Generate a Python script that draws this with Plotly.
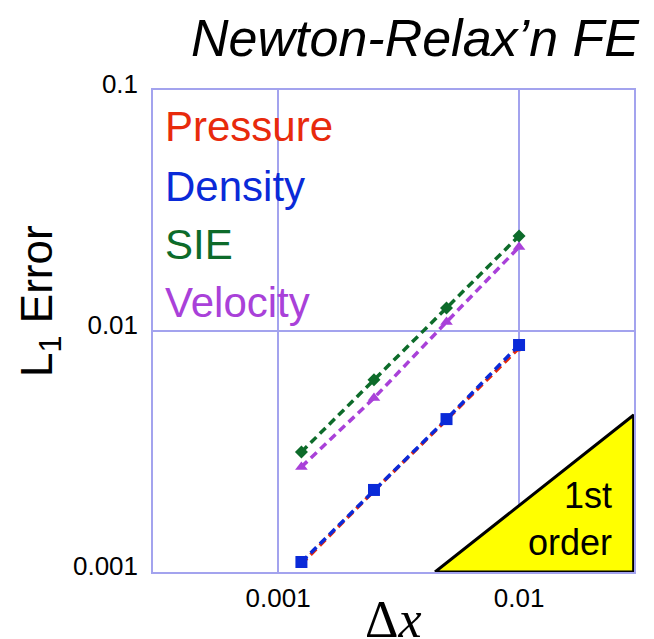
import plotly.graph_objects as go

dx = [0.00125, 0.0025, 0.005, 0.01]
pressure = [0.00108, 0.00217, 0.00428, 0.0085]
density = [0.0011, 0.00219, 0.00431, 0.00875]
sie = [0.00315, 0.00627, 0.01245, 0.0248]
velocity = [0.00273, 0.00527, 0.0109, 0.0223]

tri_x = [0.00448, 0.0299, 0.0299, 0.00448]
tri_y = [0.001, 0.001, 0.00448, 0.001]

names = ["Pressure", "Density", "SIE", "Velocity"]
colors = ["#e82a0c", "#0a2ad8", "#0d6b2a", "#a941d9"]

grid = "#a3a3ee"
fig = go.Figure()

fig.add_trace(go.Scatter(x=tri_x, y=tri_y, mode="lines", fill="toself",
                         fillcolor="#ffff00", line=dict(color="black", width=3),
                         hoverinfo="skip", showlegend=False))

series = [(pressure, "circle", 7), (density, "square", 12), (sie, "diamond", 10), (velocity, "triangle-up", 11)]
for i in range(4):
    vals, sym, sz = series[i]
    fig.add_trace(go.Scatter(x=dx, y=vals, mode="lines+markers", name=names[i],
                             line=dict(color=colors[i], width=3.5, dash="8px,5px"),
                             marker=dict(symbol=sym, size=sz, color=colors[i]),
                             showlegend=False))

plot_l, plot_r, plot_t, plot_b = 153, 634, 90, 572
def px2paper(px, py):
    return (px - plot_l) / (plot_r - plot_l), (plot_b - py) / (plot_b - plot_t)

anns = []
ys = [127, 187, 245, 302]
for n, c, yp in zip(names, colors, ys):
    xa, ya = px2paper(163, yp)
    anns.append(dict(text=n, x=xa, y=ya, xref="paper", yref="paper",
                     xanchor="left", yanchor="middle", showarrow=False,
                     font=dict(size=42, color=c, family="Liberation Sans")))

xa, ya = px2paper(614, 519)
anns.append(dict(text="1st<br>order", x=xa, y=ya, xref="paper", yref="paper",
                 xanchor="right", yanchor="middle", align="right", showarrow=False,
                 font=dict(size=36, color="black", family="Liberation Sans")))
xa, ya = px2paper(415, 38)
anns.append(dict(text="<i>Newton-Relax’n FE</i>", x=xa, y=ya, xref="paper", yref="paper",
                 xanchor="center", yanchor="middle", showarrow=False,
                 font=dict(size=52, color="black", family="Liberation Sans")))
xa, ya = px2paper(40, 301)
anns.append(dict(text="L<sub>1</sub> Error", x=xa, y=ya, xref="paper", yref="paper",
                 xanchor="center", yanchor="middle", showarrow=False, textangle=-90,
                 font=dict(size=44, color="black", family="Liberation Sans")))
xa, ya = px2paper(393, 619)
anns.append(dict(text="Δ<i>x</i>", x=xa, y=ya, xref="paper", yref="paper",
                 xanchor="center", yanchor="middle", showarrow=False,
                 font=dict(size=52, color="black", family="Liberation Serif")))

fig.update_layout(
    width=654, height=639,
    margin=dict(l=plot_l, r=654 - plot_r, t=plot_t, b=639 - plot_b),
    paper_bgcolor="white", plot_bgcolor="white",
    annotations=anns,
    xaxis=dict(type="log", range=[-3.519, -1.523], tickvals=[0.001, 0.01],
               ticktext=["0.001", "0.01"], showgrid=True, gridcolor=grid, gridwidth=1.5,
               showline=True, linecolor=grid, linewidth=1.5, mirror=True, ticks="",
               tickfont=dict(size=26, color="black", family="Liberation Sans"),
               ticklabelstandoff=2, zeroline=False),
    yaxis=dict(type="log", range=[-3, -1], tickvals=[0.001, 0.01, 0.1],
               ticktext=["0.001", "0.01", "0.1"], showgrid=True, gridcolor=grid, gridwidth=1.5,
               showline=True, linecolor=grid, linewidth=1.5, mirror=True, ticks="",
               tickfont=dict(size=26, color="black", family="Liberation Sans"),
               ticklabelstandoff=8, ticklabelshift=-6, zeroline=False),
)

fig.write_html("out.html")
